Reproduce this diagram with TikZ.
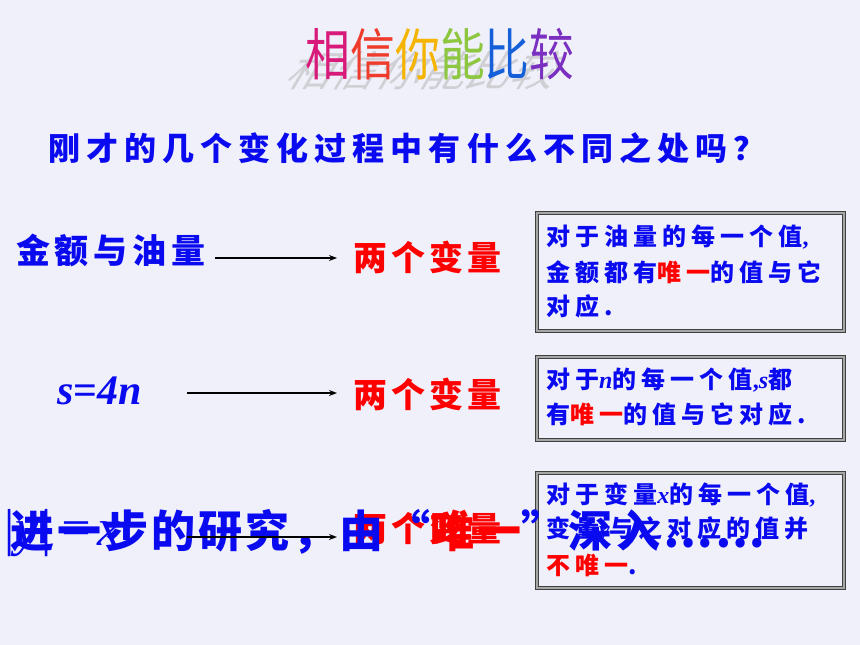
\documentclass[tikz,border=0pt]{standalone}
\usepackage{fontspec}
\usetikzlibrary{arrows.meta}
\newfontfamily\cjk{Noto Sans CJK SC}
\newfontfamily\tnr{Liberation Serif}
\definecolor{bg}{HTML}{F0F0FA}
\definecolor{tblue}{HTML}{0A0AF0}
\definecolor{tred}{HTML}{FF0000}
\definecolor{cA}{HTML}{D81B7A}
\definecolor{cB}{HTML}{EE3B2B}
\definecolor{cC}{HTML}{F5B400}
\definecolor{cD}{HTML}{8DC63F}
\definecolor{cE}{HTML}{1560D8}
\definecolor{cF}{HTML}{7B2FC0}
\definecolor{shd}{HTML}{CFCFD4}
\newcommand{\lat}[1]{{\tnr\bfseries\itshape #1}}
\newcommand{\lcm}{{\tnr\bfseries ,}}
\tikzset{
  cj/.style n args={2}{inner sep=0pt, anchor=west,
    font={\cjk\bfseries\addfontfeature{LetterSpace=#2}\fontsize{#1}{#1}\selectfont}},
  boxtext/.style={cj={24}{21}, text=tblue},
  infobox/.style={draw=black!75, line width=1pt, double=black!35, double distance=1.6pt},
  conn/.style={-{Stealth[length=8pt,width=6pt]}, line width=1.3pt, black}
}
\begin{document}
\begin{tikzpicture}[x=1pt,y=-1pt]
\useasboundingbox (0,0) rectangle (860,645);
\fill[bg] (0,0) rectangle (860,645);
% title shadow and title
\node[inner sep=0pt, anchor=base, text=shd, xscale=0.8, yscale=0.75, xslant=0.55,
  font={\cjk\fontsize{56}{56}\selectfont}] (tshadow) at (418,86) {相信你能比较};
\node[inner sep=0pt, anchor=base, xscale=0.8,
  font={\cjk\fontsize{56}{56}\selectfont}] (title) at (440,75)
  {{\color{cA}相}{\color{cB}信}{\color{cC}你}{\color{cD}能}{\color{cE}比}{\color{cF}较}};
% question
\node[cj={32}{19}, text=tblue] (q) at (48,148) {刚才的几个变化过程中有什么不同之处吗？};
% row 1
\node[cj={34}{14}, text=tblue] (l1) at (16,250) {金额与油量};
\node[cj={34}{12}, text=tred] (r1) at (353,257) {两个变量};
\coordinate (a1s) at (215,258);
\coordinate (a1e) at (337,258);
\draw[conn] (a1s) -- (a1e);
\draw[infobox] (537,213) rectangle (844,331);
\node[boxtext] (b1a) at (546,237) {对于油量的每一个值\lcm};
\node[boxtext] (b1b) at (546,272) {金额都有{\color{tred}唯一}的值与它};
\node[boxtext] (b1c) at (546,306) {对应.};
% row 2
\node[inner sep=0pt, anchor=west, text=tblue, font={\tnr\bfseries\itshape\fontsize{42}{42}\selectfont}] (l2) at (57,391) {s{\upshape =}4n};
\node[cj={34}{12}, text=tred] (r2) at (353,394) {两个变量};
\coordinate (a2s) at (187,393);
\coordinate (a2e) at (337,393);
\draw[conn] (a2s) -- (a2e);
\draw[infobox] (537,357) rectangle (844,440);
\node[boxtext] (b2a) at (546,380) {对于\lat{n}的每一个值\lcm\lat{s}都};
\node[boxtext] (b2b) at (546,414) {有{\color{tred}唯一}的值与它对应.};
% row 3
\draw[infobox] (537,473) rectangle (844,588);
\node[boxtext] (b3a) at (546,495) {对于变量\lat{x}的每一个值\lcm};
\node[boxtext] (b3b) at (546,530) {变量\lat{y}与之对应的值并};
\node[boxtext, text=tred] (b3c) at (546,565) {不唯一{\color{tblue}.}};
\node[inner sep=0pt, anchor=west, text=tblue, font={\tnr\itshape\fontsize{52}{52}\selectfont}] (l3) at (1,533) {|y|\kern6pt=\kern4pt x};
\node[cj={34}{12}, text=tred] (r3) at (353,528) {两个变量};
\node[cj={44}{7}, text=tblue] (big) at (10,532) {进一步的研究，由“{\color{tred}唯一}”深入……};
\coordinate (a3s) at (187,537);
\coordinate (a3e) at (337,537);
\draw[conn] (a3s) -- (a3e);
\end{tikzpicture}
\end{document}
